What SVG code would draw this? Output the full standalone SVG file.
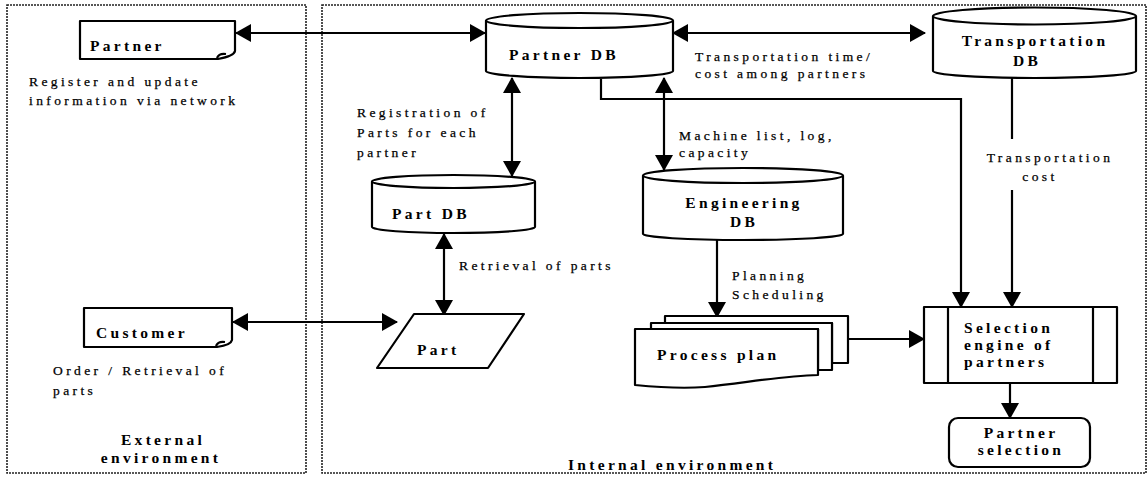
<svg xmlns="http://www.w3.org/2000/svg" width="1148" height="477" viewBox="0 0 1148 477">
<style>
.env{fill:none;stroke:#222;stroke-width:1.6;stroke-dasharray:2 1}
.shp{fill:#fff;stroke:#000;stroke-width:2.2;stroke-linejoin:round}
.ln{fill:none;stroke:#000;stroke-width:2.2}
.lbl{font-family:"Liberation Serif","Times New Roman",serif;font-weight:bold;font-size:15.5px;letter-spacing:3.3px;fill:#000}
.txt{font-family:"Liberation Serif","Times New Roman",serif;font-size:13.5px;letter-spacing:3.4px;fill:#000;stroke:#000;stroke-width:0.25}
.mid{text-anchor:middle}
</style>
<defs>
<marker id="ah" markerUnits="userSpaceOnUse" markerWidth="16" markerHeight="18" viewBox="0 0 16 18" refX="15" refY="9" orient="auto-start-reverse">
<path d="M0,0 L16,9 L0,18 Z" fill="#000"/>
</marker>
</defs>
<rect width="1148" height="477" fill="#fff"/>

<g id="external-environment">
<rect class="env" x="7" y="5" width="299" height="468"/>
<text class="lbl mid" x="163" y="445">External</text>
<text class="lbl mid" x="161" y="463">environment</text>
</g>
<g id="internal-environment">
<rect class="env" x="322" y="5" width="824" height="468"/>
<text class="lbl" x="568" y="470">Internal environment</text>
</g>

<g id="connectors">
<line class="ln" x1="236" y1="33" x2="485" y2="33" marker-start="url(#ah)" marker-end="url(#ah)"/>
<line class="ln" x1="673" y1="33" x2="925" y2="33" marker-start="url(#ah)" marker-end="url(#ah)"/>
<line class="ln" x1="512" y1="78" x2="512" y2="176" marker-start="url(#ah)" marker-end="url(#ah)"/>
<line class="ln" x1="444" y1="234" x2="444" y2="315" marker-start="url(#ah)" marker-end="url(#ah)"/>
<line class="ln" x1="233" y1="322" x2="397" y2="322" marker-start="url(#ah)" marker-end="url(#ah)"/>
<line class="ln" x1="664" y1="78" x2="664" y2="170" marker-start="url(#ah)" marker-end="url(#ah)"/>
<polyline class="ln" points="601,79 601,99 961,99 961,307" marker-end="url(#ah)"/>
<line class="ln" x1="1012" y1="78" x2="1012" y2="139"/>
<line class="ln" x1="1012" y1="190" x2="1012" y2="307" marker-end="url(#ah)"/>
<line class="ln" x1="717" y1="240" x2="717" y2="317" marker-end="url(#ah)"/>
<line class="ln" x1="848" y1="339" x2="924" y2="339" marker-end="url(#ah)"/>
<line class="ln" x1="1010" y1="383" x2="1010" y2="418" marker-end="url(#ah)"/>
<text class="txt" x="29" y="86">Register and update</text>
<text class="txt" x="29" y="105">information via network</text>
<text class="txt" x="53" y="375">Order / Retrieval of</text>
<text class="txt" x="53" y="395">parts</text>
<text class="txt" x="357" y="117">Registration of</text>
<text class="txt" x="357" y="137">Parts for each</text>
<text class="txt" x="357" y="157">partner</text>
<text class="txt" x="459" y="270">Retrieval of parts</text>
<text class="txt" x="695" y="61">Transportation time/</text>
<text class="txt" x="695" y="78">cost among partners</text>
<text class="txt" x="679" y="140">Machine list, log,</text>
<text class="txt" x="679" y="157">capacity</text>
<text class="txt mid" x="1050" y="162">Transportation</text>
<text class="txt mid" x="1040" y="181">cost</text>
<text class="txt" x="732" y="280">Planning</text>
<text class="txt" x="732" y="299">Scheduling</text>
</g>

<g id="partner">
<path class="shp" d="M80,21 H235 V51 Q234,56 218,59 H80 Z"/>
<path class="ln" d="M217,58 Q219,53 226,54" stroke-width="1.6"/>
<text class="lbl" x="90" y="51">Partner</text>
</g>

<g id="customer">
<path class="shp" d="M84,308 H232 V340 Q231,345 217,347 H84 Z"/>
<path class="ln" d="M216,346 Q218,341 225,342" stroke-width="1.6"/>
<text class="lbl" x="96" y="338">Customer</text>
</g>

<g id="partner-db">
<path class="shp" d="M486,20.5 V71 A93.5,7 0 0 0 673,71 V20.5"/>
<ellipse class="shp" cx="579.5" cy="20.5" rx="93.5" ry="7.5"/>
<text class="lbl" x="509" y="60">Partner DB</text>
</g>

<g id="transportation-db">
<path class="shp" d="M933,16 V71 A101.5,7 0 0 0 1136,71 V16"/>
<ellipse class="shp" cx="1034.5" cy="16" rx="101.5" ry="8.5"/>
<text class="lbl mid" x="1035" y="46">Transportation</text>
<text class="lbl mid" x="1027" y="66">DB</text>
</g>

<g id="part-db">
<path class="shp" d="M372,181.5 V227 A81.5,6 0 0 0 535,227 V181.5"/>
<ellipse class="shp" cx="453.5" cy="181.5" rx="81.5" ry="6.5"/>
<text class="lbl" x="392" y="219">Part DB</text>
</g>

<g id="engineering-db">
<path class="shp" d="M643,175.5 V234 A100,6 0 0 0 843,234 V175.5"/>
<ellipse class="shp" cx="743" cy="175.5" rx="100" ry="7.5"/>
<text class="lbl mid" x="744" y="208">Engineering</text>
<text class="lbl mid" x="744" y="227">DB</text>
</g>

<g id="part">
<polygon class="shp" points="414,314 524,314 488,368 377,368"/>
<text class="lbl" x="417" y="355">Part</text>
</g>

<g id="process-plan">
<path class="shp" d="M665,316 H848 V363 H832 V323 H665 Z"/>
<path class="shp" d="M651,323 H832 V370 H818 V329 H651 Z"/>
<path class="shp" d="M635,329 H818 V375 C780,376 745,383 705,387 C680,389 655,387 635,385 Z"/>
<text class="lbl" x="657" y="360">Process plan</text>
</g>

<g id="selection-engine">
<rect class="shp" x="924" y="307" width="193" height="76"/>
<line class="ln" x1="948" y1="307" x2="948" y2="383"/>
<line class="ln" x1="1093" y1="307" x2="1093" y2="383"/>
<text class="lbl" x="964" y="333">Selection</text>
<text class="lbl" x="964" y="350">engine of</text>
<text class="lbl" x="964" y="367">partners</text>
</g>

<g id="partner-selection">
<rect class="shp" x="949" y="418" width="141" height="49" rx="9"/>
<text class="lbl mid" x="1021" y="438">Partner</text>
<text class="lbl mid" x="1021" y="455">selection</text>
</g>
</svg>
